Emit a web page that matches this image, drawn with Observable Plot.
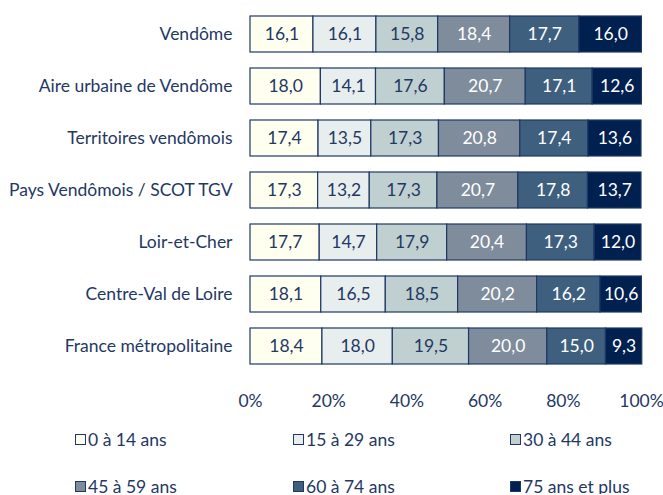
<!DOCTYPE html>
<html><head><meta charset="utf-8">
<script src="https://cdn.jsdelivr.net/npm/d3@7"></script>
<script src="https://cdn.jsdelivr.net/npm/@observablehq/plot@0.6"></script>
<style>
body{margin:0;background:#fff;font-family:Lato,sans-serif;color:#1f3864;}
#legend{position:relative;width:663px;height:80px;font-size:17.5px;}
.li{position:absolute;display:flex;align-items:center;white-space:nowrap;}
.sw{width:11px;height:11px;border:1px solid #1f3864;margin-right:2px;box-sizing:border-box;}
</style></head>
<body><div id="chart"></div><div id="legend"></div>
<script>
const territories = ["Vendôme","Aire urbaine de Vendôme","Territoires vendômois","Pays Vendômois / SCOT TGV","Loir-et-Cher","Centre-Val de Loire","France métropolitaine"];
const ageGroups = ["0 à 14 ans","15 à 29 ans","30 à 44 ans","45 à 59 ans","60 à 74 ans","75 ans et plus"];
const colors = ["#fffff0","#e8edee","#c0cfcf","#7f8c9c","#3f5f7f","#002050"];
const textColors = ["#1f3864","#1f3864","#1f3864","#ffffff","#ffffff","#ffffff"];
const v0_14 = [16.1,18.0,17.4,17.3,17.7,18.1,18.4];
const v15_29 = [16.1,14.1,13.5,13.2,14.7,16.5,18.0];
const v30_44 = [15.8,17.6,17.3,17.3,17.9,18.5,19.5];
const v45_59 = [18.4,20.7,20.8,20.7,20.4,20.2,20.0];
const v60_74 = [17.7,17.1,17.4,17.8,17.3,16.2,15.0];
const v75 = [16.0,12.6,13.6,13.7,12.0,10.6,9.3];
const xTicks = [0,20,40,60,80,100];

const series = [v0_14,v15_29,v30_44,v45_59,v60_74,v75];
const data = [];
territories.forEach((t,i)=>{
  let x1 = 0;
  series.forEach((s,j)=>{
    const x2 = x1 + s[i];
    data.push({territory:t, group:ageGroups[j], value:s[i], x1, x2, gi:j});
    x1 = x2;
  });
});
const fmt = v => v.toFixed(1).replace(".",",");
const fs = 17.5;

const chart = Plot.plot({
  width:663, height:414,
  marginLeft:250, marginRight:22, marginTop:6, marginBottom:40,
  style:{fontFamily:"Lato, sans-serif", fontSize:fs+"px", color:"#1f3864", background:"#fff"},
  x:{domain:[0,100], ticks:xTicks, tickFormat:d=>d+"%", tickSize:0, tickPadding:20, label:null},
  y:{domain:territories, padding:0.314, paddingOuter:0.157, tickSize:0, tickPadding:18, label:null},
  color:{domain:ageGroups, range:colors},
  marks:[
    Plot.rectX(data,{y:"territory", x1:"x1", x2:"x2", fill:"group", stroke:"#1f3864", strokeWidth:1.2}),
    Plot.text(data,{y:"territory", x:d=>(d.x1+d.x2)/2, text:d=>fmt(d.value), fill:d=>textColors[d.gi], fontSize:fs}),
    Plot.axisX({ticks:xTicks, tickFormat:d=>d+"%", tickSize:0, tickPadding:20, fontSize:fs}),
    Plot.axisY({tickSize:0, tickPadding:18, fontSize:fs})
  ]
});
document.getElementById("chart").appendChild(chart);

const lg = document.getElementById("legend");
const pos = [[75,25],[293,25],[510,25],[75,72],[293,72],[510,72]];
ageGroups.forEach((g,i)=>{
  const d = document.createElement("div");
  d.className="li";
  d.style.left = pos[i][0]+"px";
  d.style.top = (pos[i][1]-11)+"px";
  d.style.height="22px";
  d.innerHTML = `<span class="sw" style="background:${colors[i]}"></span><span>${g}</span>`;
  lg.appendChild(d);
});
</script></body></html>
